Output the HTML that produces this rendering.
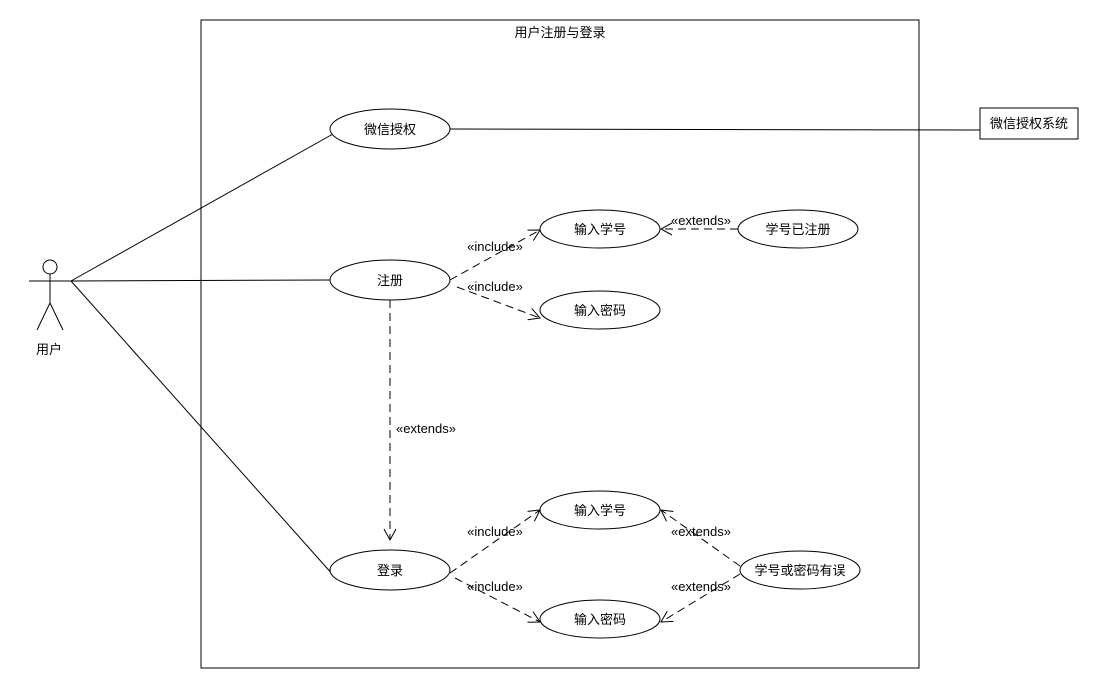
<!DOCTYPE html>
<html><head><meta charset="utf-8"><style>html,body{margin:0;padding:0;background:#fff}</style></head>
<body>
<svg width="1100" height="690" xmlns="http://www.w3.org/2000/svg" font-family="Liberation Sans, Noto Sans CJK SC, sans-serif" font-size="13">
<defs>
<marker id="a" markerWidth="14" markerHeight="14" refX="12" refY="7" orient="auto" markerUnits="userSpaceOnUse">
<path d="M1,1 L12,7 L1,13" fill="none" stroke="#000" stroke-width="1"/>
</marker>
</defs>
<rect x="201" y="20" width="718" height="648" fill="none" stroke="#000"/>
<text x="560" y="37" text-anchor="middle">用户注册与登录</text>
<g stroke="#000" fill="none">
<circle cx="50" cy="267" r="7"/>
<line x1="29" y1="281" x2="71" y2="281"/>
<line x1="50" y1="274" x2="50" y2="303"/>
<line x1="50" y1="303" x2="37" y2="330"/>
<line x1="50" y1="303" x2="63" y2="330"/>
<line x1="71" y1="281" x2="333" y2="134"/>
<line x1="71" y1="281" x2="330" y2="280"/>
<line x1="71" y1="281" x2="334" y2="576"/>
<line x1="450" y1="129" x2="980" y2="130"/>
<rect x="980" y="108" width="98" height="31" fill="#fff"/>
<ellipse cx="390" cy="129" rx="60" ry="20" fill="#fff"/>
<ellipse cx="390" cy="280" rx="60" ry="20" fill="#fff"/>
<ellipse cx="390" cy="570" rx="60" ry="20" fill="#fff"/>
<ellipse cx="600" cy="229" rx="60" ry="19" fill="#fff"/>
<ellipse cx="600" cy="310" rx="60" ry="19" fill="#fff"/>
<ellipse cx="798" cy="229" rx="60" ry="19" fill="#fff"/>
<ellipse cx="600" cy="510" rx="60" ry="19" fill="#fff"/>
<ellipse cx="600" cy="619" rx="60" ry="19" fill="#fff"/>
<ellipse cx="800" cy="570" rx="60" ry="19" fill="#fff"/>
<g stroke-dasharray="8,5" marker-end="url(#a)">
<line x1="450" y1="280" x2="540" y2="230"/>
<line x1="457" y1="287" x2="540" y2="318"/>
<line x1="738" y1="229" x2="661" y2="229"/>
<line x1="390" y1="300" x2="390" y2="540"/>
<line x1="450" y1="573" x2="540" y2="510"/>
<line x1="455" y1="578" x2="540" y2="622"/>
<line x1="740" y1="566" x2="661" y2="510"/>
<line x1="740" y1="574" x2="661" y2="622"/>
</g>
</g>
<g text-anchor="middle">
<text x="49" y="354">用户</text>
<text x="1029" y="128">微信授权系统</text>
<text x="390" y="134">微信授权</text>
<text x="390" y="285">注册</text>
<text x="390" y="575">登录</text>
<text x="600" y="234">输入学号</text>
<text x="600" y="315">输入密码</text>
<text x="798" y="234">学号已注册</text>
<text x="600" y="515">输入学号</text>
<text x="600" y="624">输入密码</text>
<text x="800" y="575">学号或密码有误</text>
<text x="495" y="251">«include»</text>
<text x="495" y="291">«include»</text>
<text x="701" y="225">«extends»</text>
<text x="426" y="433">«extends»</text>
<text x="495" y="536">«include»</text>
<text x="495" y="591">«include»</text>
<text x="701" y="536">«extends»</text>
<text x="701" y="591">«extends»</text>
</g>
</svg>
</body></html>
